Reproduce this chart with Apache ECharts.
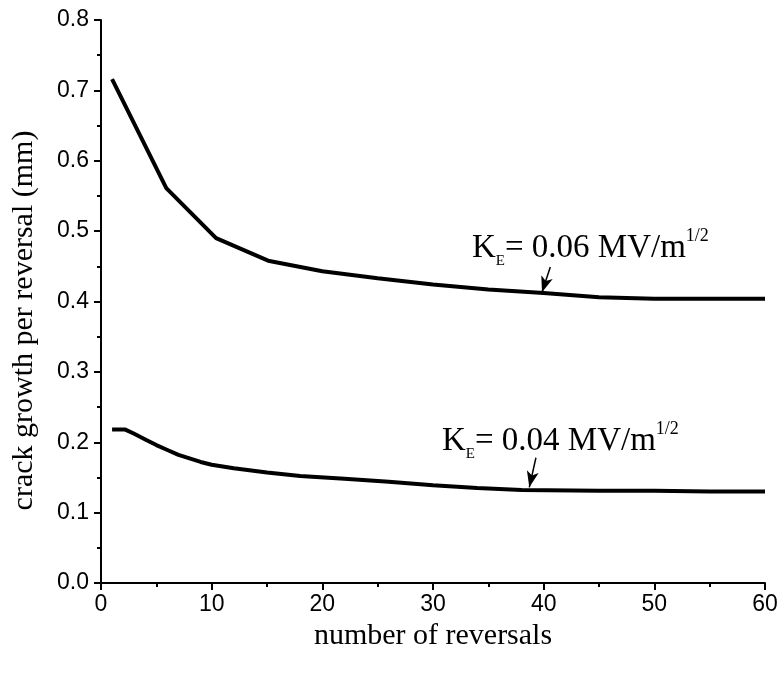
<!DOCTYPE html>
<html>
<head>
<meta charset="utf-8">
<script src="https://cdn.jsdelivr.net/npm/echarts@6/dist/echarts.min.js"></script>
<style>
  html, body { margin: 0; padding: 0; background: #fff; }
  #chart { width: 782px; height: 674px; }
</style>
</head>
<body>
<div id="chart"></div>
<script>
// K_E = 0.06 MV/m^1/2
const reversalsHigh = [1, 5.9, 10.4, 15.1, 20, 25, 30, 35, 40, 45, 50, 55, 60]
const growthHigh = [0.716, 0.561, 0.490, 0.458, 0.443, 0.433, 0.424, 0.417, 0.412, 0.406, 0.404, 0.404, 0.404]

// K_E = 0.04 MV/m^1/2
const reversalsLow = [1, 2.2, 3, 4, 5, 6, 7, 8, 9, 10, 12, 15, 18, 22, 26, 30, 34, 38, 45, 50, 55, 60]
const growthLow = [0.218, 0.218, 0.212, 0.204, 0.196, 0.189, 0.182, 0.177, 0.172, 0.168, 0.163, 0.157, 0.152, 0.148, 0.144, 0.139, 0.135, 0.132, 0.131, 0.131, 0.130, 0.130]

const xTicks = [0, 10, 20, 30, 40, 50, 60]
const yTicks = [0.0, 0.1, 0.2, 0.3, 0.4, 0.5, 0.6, 0.7, 0.8]

// arrow annotations: [from, to] in data coordinates
const arrowHigh = [[40.6, 0.449], [39.85, 0.413]]
const arrowLow = [[39.3, 0.178], [38.7, 0.136]]

const chart = echarts.init(document.getElementById('chart'))

const pairs = (xs, ys) => xs.map((x, i) => [x, ys[i]])

const axisCommon = {
  axisLine: { show: true, lineStyle: { color: '#000', width: 2 } },
  axisTick: { show: true, inside: false, length: 7, lineStyle: { color: '#000', width: 2 } },
  minorTick: { show: true, splitNumber: 2, length: 4, lineStyle: { color: '#000', width: 2 } },
  splitLine: { show: false }
}

const arrowLine = (a) => ({
  silent: true,
  symbol: ['none', 'arrow'],
  symbolSize: [9, 16],
  label: { show: false },
  lineStyle: { color: '#000', width: 1.5, type: 'solid' },
  data: [[{ coord: a[0] }, { coord: a[1] }]],
  animation: false
})

const labelRich = {
  k: { fontFamily: 'Liberation Serif', fontSize: 33, color: '#000', verticalAlign: 'middle', lineHeight: 42 },
  sub: { fontFamily: 'Liberation Serif', fontSize: 15, color: '#000', verticalAlign: 'bottom', lineHeight: 15 },
  sup: { fontFamily: 'Liberation Serif', fontSize: 18, color: '#000', verticalAlign: 'top', lineHeight: 18 }
}

const option = {
  animation: false,
  backgroundColor: '#fff',
  grid: { left: 101, right: 17, top: 20, bottom: 91, outerBoundsMode: 'none' },
  xAxis: {
    ...axisCommon,
    type: 'value',
    min: 0, max: 60, interval: 10,
    name: 'number of reversals',
    nameLocation: 'middle',
    nameGap: 31,
    nameTextStyle: { fontFamily: 'Liberation Serif', fontSize: 30, color: '#000' },
    axisLabel: {
      fontFamily: 'Liberation Sans', fontSize: 23, color: '#000', margin: 10,
      formatter: v => xTicks.includes(v) ? String(v) : ''
    }
  },
  yAxis: {
    ...axisCommon,
    type: 'value',
    min: 0, max: 0.8, interval: 0.1,
    name: 'crack growth per reversal (mm)',
    nameLocation: 'middle',
    nameGap: 62,
    nameTextStyle: { fontFamily: 'Liberation Serif', fontSize: 30, color: '#000', padding: [0, 38, 0, 0] },
    axisLabel: {
      fontFamily: 'Liberation Sans', fontSize: 23, color: '#000', margin: 12,
      formatter: v => yTicks.some(t => Math.abs(t - v) < 1e-9) ? v.toFixed(1) : ''
    }
  },
  series: [
    {
      type: 'line',
      data: pairs(reversalsHigh, growthHigh),
      smooth: false,
      showSymbol: false,
      lineStyle: { color: '#000', width: 4 },
      markLine: arrowLine(arrowHigh)
    },
    {
      type: 'line',
      data: pairs(reversalsLow, growthLow),
      smooth: false,
      showSymbol: false,
      lineStyle: { color: '#000', width: 4 },
      markLine: arrowLine(arrowLow)
    }
  ],
  graphic: [
    {
      type: 'text', left: 472, top: 227,
      style: { text: '{k|K}{sub|E}{k|= 0.06 MV/m}{sup|1/2}', rich: labelRich }
    },
    {
      type: 'text', left: 442, top: 420,
      style: { text: '{k|K}{sub|E}{k|= 0.04 MV/m}{sup|1/2}', rich: labelRich }
    }
  ]
}

chart.setOption(option)
</script>
</body>
</html>
